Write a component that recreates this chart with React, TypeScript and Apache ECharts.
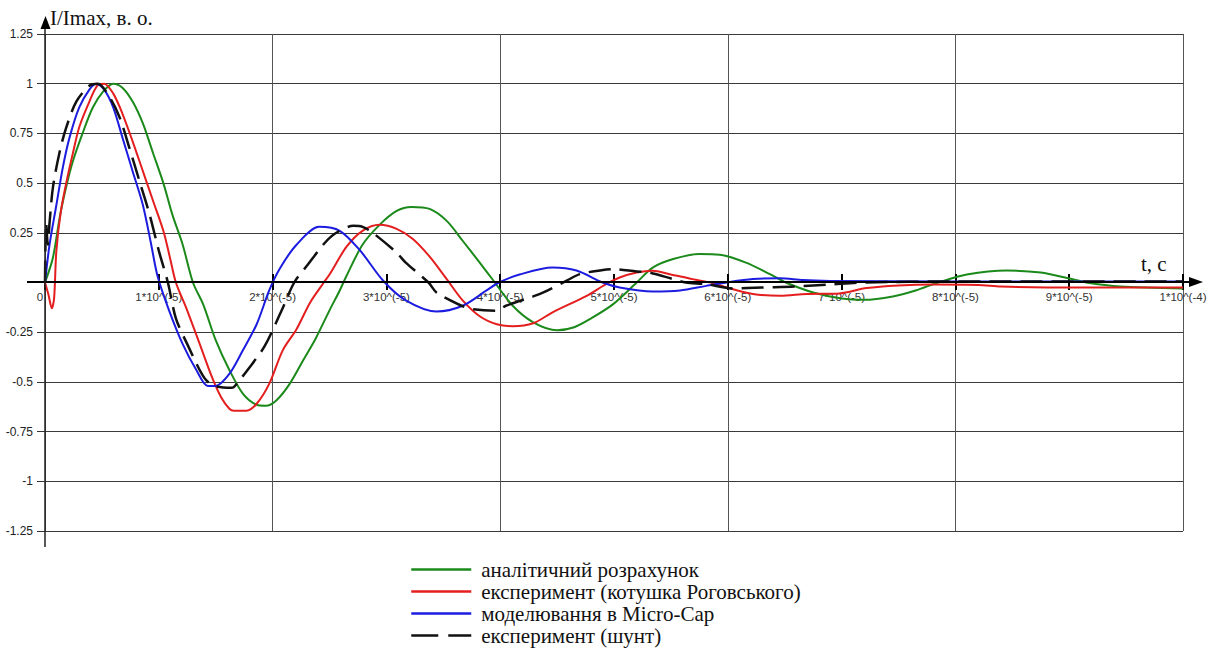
import React, { useEffect, useRef } from "react";
import * as echarts from "echarts";

// time in units of 10^(-5) s, value I/Imax
const tickLabels = ["0", "1*10^(-5)", "2*10^(-5)", "3*10^(-5)", "4*10^(-5)", "5*10^(-5)", "6*10^(-5)", "7*10^(-5)", "8*10^(-5)", "9*10^(-5)", "1*10^(-4)"];

const seriesNames = [
  "аналітичний розрахунок",
  "експеримент (котушка Роговського)",
  "моделювання в Micro-Cap",
  "експеримент (шунт)",
];

const analytic: [number, number][] = [
  [0, 0], [0.07, 0.126], [0.13, 0.33], [0.19, 0.49], [0.245, 0.61], [0.33, 0.75], [0.42, 0.88], [0.51, 0.96],
  [0.6, 1.0], [0.68, 0.98], [0.77, 0.91], [0.86, 0.8], [0.95, 0.65], [1.04, 0.5], [1.12, 0.34], [1.21, 0.19],
  [1.3, 0], [1.39, -0.11], [1.5, -0.29], [1.62, -0.44], [1.74, -0.56], [1.86, -0.615], [1.94, -0.62],
  [2.03, -0.595], [2.15, -0.51], [2.27, -0.39], [2.38, -0.28], [2.5, -0.14], [2.59, -0.04], [2.65, 0.034],
  [2.79, 0.19], [2.94, 0.29], [3.09, 0.36], [3.22, 0.38], [3.38, 0.37], [3.53, 0.31], [3.67, 0.21], [3.82, 0.1],
  [3.94, 0.01], [4.11, -0.117], [4.29, -0.2], [4.5, -0.24], [4.65, -0.225], [4.8, -0.18], [4.99, -0.11],
  [5.2, 0], [5.34, 0.075], [5.52, 0.118], [5.75, 0.143], [5.93, 0.14], [6.16, 0.1], [6.37, 0.042], [6.51, 0],
  [6.75, -0.05], [7.0, -0.08], [7.2, -0.087], [7.45, -0.07], [7.65, -0.04], [7.85, 0], [8.1, 0.04], [8.45, 0.06],
  [8.75, 0.05], [9.0, 0.02], [9.15, 0], [9.45, -0.02], [10, -0.03],
];

const rogowski: [number, number][] = [
  [0, 0], [0.03, -0.06], [0.06, -0.13], [0.08, -0.08], [0.1, 0.16], [0.14, 0.36], [0.19, 0.51], [0.245, 0.65],
  [0.3, 0.78], [0.39, 0.91], [0.46, 0.99], [0.52, 1.0], [0.6, 0.95], [0.68, 0.85], [0.77, 0.71], [0.86, 0.56],
  [0.95, 0.41], [1.04, 0.26], [1.1, 0.12], [1.15, 0], [1.24, -0.126], [1.36, -0.31], [1.47, -0.48], [1.55, -0.58],
  [1.62, -0.635], [1.66, -0.645], [1.77, -0.645], [1.86, -0.61], [1.97, -0.51], [2.09, -0.34], [2.21, -0.235],
  [2.33, -0.1], [2.45, 0], [2.5, 0.04], [2.65, 0.18], [2.79, 0.26], [2.94, 0.29], [3.09, 0.27], [3.23, 0.22],
  [3.38, 0.13], [3.53, 0.017], [3.67, -0.09], [3.82, -0.17], [3.97, -0.21], [4.11, -0.22], [4.29, -0.205],
  [4.46, -0.15], [4.76, -0.067], [4.93, -0.008], [5.05, 0.025], [5.2, 0.05], [5.34, 0.059], [5.49, 0.042],
  [5.69, 0.017], [5.87, -0.003], [5.99, -0.025], [6.22, -0.058], [6.46, -0.067], [6.69, -0.058], [6.98, -0.055],
  [7.22, -0.028], [7.5, -0.015], [7.8, -0.01], [8.2, -0.012], [8.4, -0.02], [8.8, -0.025], [10, -0.025],
];

const microCap: [number, number][] = [
  [0, 0], [0.04, 0.19], [0.1, 0.39], [0.157, 0.58], [0.216, 0.73], [0.3, 0.88], [0.39, 0.97], [0.45, 1.0],
  [0.52, 0.97], [0.6, 0.88], [0.68, 0.73], [0.77, 0.56], [0.86, 0.39], [0.93, 0.2], [0.99, 0.03], [1.09, -0.14],
  [1.21, -0.31], [1.33, -0.44], [1.43, -0.52], [1.5, -0.52], [1.62, -0.46], [1.74, -0.34], [1.86, -0.21],
  [1.97, -0.04], [2.06, 0.067], [2.21, 0.19], [2.41, 0.28], [2.59, 0.26], [2.77, 0.16], [2.97, 0.01], [3.17, -0.09],
  [3.44, -0.146], [3.67, -0.117], [3.88, -0.04], [3.99, 0], [4.17, 0.04], [4.46, 0.075], [4.67, 0.06], [4.9, 0],
  [5.05, -0.025], [5.34, -0.045], [5.58, -0.04], [5.81, -0.017], [5.99, 0], [6.22, 0.017], [6.46, 0.022],
  [6.66, 0.012], [6.9, 0.008], [8, 0.005], [10, 0.005],
];

const shunt: [number, number][] = [
  [0, 0], [0.01, 0.3], [0.025, 0.19], [0.04, 0.3], [0.07, 0.48], [0.13, 0.66], [0.187, 0.78], [0.275, 0.91],
  [0.39, 0.99], [0.465, 1.0], [0.57, 0.93], [0.656, 0.83], [0.74, 0.68], [0.83, 0.51], [0.92, 0.34], [1.0, 0.16],
  [1.08, 0], [1.15, -0.18], [1.25, -0.31], [1.4, -0.48], [1.49, -0.52], [1.64, -0.53], [1.71, -0.49], [1.78, -0.44],
  [1.93, -0.32], [2.08, -0.14], [2.19, 0], [2.31, 0.09], [2.46, 0.2], [2.56, 0.25], [2.71, 0.285], [2.79, 0.28],
  [2.88, 0.25], [3.09, 0.15], [3.17, 0.1], [3.37, 0], [3.44, -0.05], [3.66, -0.117], [3.76, -0.134], [3.97, -0.142],
  [4.05, -0.117], [4.29, -0.07], [4.38, -0.05], [4.58, 0.008], [4.7, 0.042], [4.89, 0.062], [4.99, 0.067],
  [5.2, 0.055], [5.31, 0.05], [5.52, 0.017], [5.63, 0], [5.81, -0.008], [6.04, -0.03], [6.3, -0.025],
  [6.6, -0.02], [6.9, -0.01], [7.2, 0], [8, 0.005], [10, 0.005],
];

const colors = ["#1b8a1b", "#e41e1e", "#1c1ce0", "#111111"];

export default function App() {
  const ref = useRef<HTMLDivElement>(null);
  useEffect(() => {
    if (!ref.current) return;
    const chart = echarts.init(ref.current, null, { renderer: "svg" });
    const sans = "'Liberation Sans', Arial, sans-serif";
    const serif = "'Liberation Serif', 'Times New Roman', serif";
    const datasets = [analytic, rogowski, microCap, shunt];
    // the time axis sits on the zero line: grid bottom (531) minus zero line (282)
    const zeroOffset = -249;
    chart.setOption({
      animation: false,
      backgroundColor: "#ffffff",
      grid: { left: 45, right: 28, top: 34, bottom: 122, containLabel: false },
      xAxis: [
        {
          type: "value",
          position: "bottom",
          offset: zeroOffset,
          min: 0,
          max: 10,
          interval: 1,
          axisLine: { show: true, onZero: false, lineStyle: { color: "#000", width: 2 } },
          axisTick: { show: true, length: 8, lineStyle: { color: "#000", width: 2 } },
          axisLabel: {
            margin: 9,
            fontFamily: sans,
            fontSize: 11.5,
            color: "#333",
            formatter: (v: number) => (Math.round(v) === 0 ? "{z|0}" : tickLabels[Math.round(v)]),
            rich: { z: { fontFamily: sans, fontSize: 11.5, color: "#333", padding: [0, 10, 0, 0] } },
          },
          splitLine: { show: false },
        },
        {
          type: "value",
          position: "top",
          min: 0,
          max: 10,
          interval: 2,
          axisLine: { show: false, onZero: false },
          axisTick: { show: false },
          axisLabel: { show: false },
          splitLine: { show: true, lineStyle: { color: "#555", width: 1 } },
        },
        {
          type: "value",
          position: "bottom",
          offset: zeroOffset,
          min: 0,
          max: 10,
          interval: 1,
          axisLine: { show: false, onZero: false },
          axisTick: { show: true, inside: true, length: 8, lineStyle: { color: "#000", width: 2 } },
          axisLabel: { show: false },
          splitLine: { show: false },
        },
      ],
      yAxis: {
        type: "value",
        min: -1.25,
        max: 1.25,
        interval: 0.25,
        axisLine: { show: false },
        axisTick: { show: true, length: 8, lineStyle: { color: "#333" } },
        axisLabel: {
          margin: 12,
          fontFamily: sans,
          fontSize: 12,
          color: "#222",
          formatter: (v: number) => (Math.abs(v) < 1e-9 ? "" : String(v)),
        },
        splitLine: { show: true, lineStyle: { color: "#3a3a3a", width: 1 } },
      },
      legend: {
        orient: "vertical",
        left: 405,
        top: 554,
        height: 200,
        itemWidth: 60,
        itemHeight: 14,
        itemGap: 1,
        itemStyle: { opacity: 0 },
        textStyle: { fontFamily: serif, fontSize: 21, color: "#111", lineHeight: 21, padding: [0, 0, 0, 5] },
        data: seriesNames.map((n, i) => ({
          name: n,
          itemStyle: { opacity: 0 },
          lineStyle: i === 3 ? { type: [27, 10], width: 2.5 } : { width: 2.5 },
        })),
      },
      graphic: [
        { type: "line", z: 100, shape: { x1: 27, y1: 282, x2: 1192, y2: 282 }, style: { stroke: "#000", lineWidth: 2 } },
        { type: "polygon", z: 100, shape: { points: [[1189, 277], [1203, 282], [1189, 287]] }, style: { fill: "#000" } },
        { type: "line", z: 100, shape: { x1: 45, y1: 27, x2: 45, y2: 547 }, style: { stroke: "#222", lineWidth: 1.5 } },
        { type: "polygon", z: 100, shape: { points: [[40.5, 29], [45.5, 16], [50.5, 29]] }, style: { fill: "#000" } },
        { type: "text", z: 100, x: 50, y: 7, style: { text: "I/Imax, в. о.", font: `21px ${serif}`, fill: "#111" } },
        { type: "text", z: 100, x: 1141, y: 253, style: { text: "t, c", font: `21px ${serif}`, fill: "#111" } },
      ],
      series: datasets.map((d, i) => ({
        name: seriesNames[i],
        type: "line",
        xAxisIndex: 0,
        data: d,
        showSymbol: false,
        symbol: "none",
        smooth: 0.3,
        z: 10 + i,
        lineStyle: {
          color: colors[i],
          width: i === 3 ? 2.5 : 2,
          type: i === 3 ? [22, 9] : "solid",
        },
        itemStyle: { color: colors[i] },
      })),
    });
    return () => chart.dispose();
  }, []);
  return (
    <div
      ref={ref}
      style={{ position: "fixed", left: 0, top: 0, width: 1211, height: 653, background: "#fff" }}
    />
  );
}
